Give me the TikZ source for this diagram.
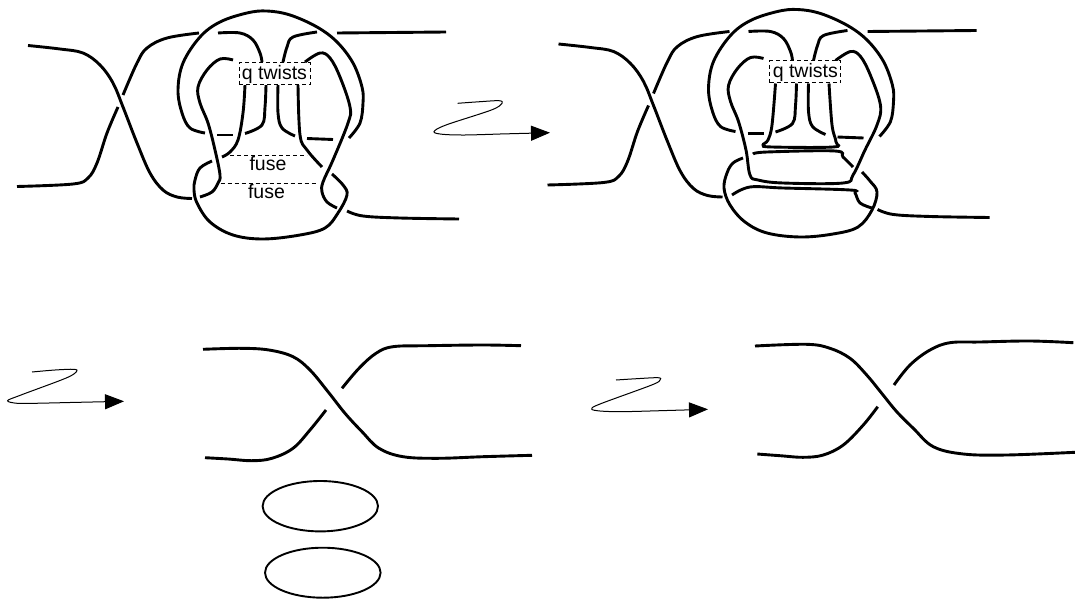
\documentclass[tikz,border=0pt]{standalone}
\usepackage{fontspec}
\setmainfont{Liberation Sans}
\usetikzlibrary{arrows.meta}
\tikzset{
  strand/.style={line width=2.9pt},
  loopring/.style={line width=1.9pt},
  fuseline/.style={line width=1pt,dash pattern=on 4pt off 3pt},
  twistbox/.style={draw,fill=white,line width=1pt,dash pattern=on 4pt off 3pt,minimum width=71pt,minimum height=22pt,inner sep=0pt,font=\fontsize{19.5}{20}\selectfont},
  fuselabel/.style={inner sep=0pt,font=\fontsize{19.5}{20}\selectfont},
  squiggle/.style={line width=1pt,-{Triangle[length=19pt,width=15pt]}}
}
\newcommand{\strandcurve}[1]{\draw[strand] plot[smooth,tension=.6] coordinates {#1};}
\newcommand{\squigglecurve}[2]{\draw[squiggle] plot[smooth,tension=.55] coordinates {#1} -- #2;}
\newcommand{\knotupper}{
  \strandcurve{(28,45.5)(60,49)(83,53)(100,65)(113,83)(123,107)(137,143)(150,173)(163,190)(177,197)(192,198.5)}
  \strandcurve{(199,33)(167,38)(147,48)(137,63)(123,95)}
  \strandcurve{(118,107)(107,133)(97,163)(88,178)(73,184)(17,186.5)}
  \strandcurve{(205,133)(190,128)(182,113)(178,90)(183,63)(200,37)(220,22)(247,13)(267,11)(290,15)(317,27)(337,42)(353,63)(362,87)(363,103)(360,123)(349,138)}
  \strandcurve{(218,33)(240,33)(253,40)(260,53)(262,62)}
  \strandcurve{(283,62)(287,47)(293,37)(317,32)}
  \strandcurve{(337,33)(446,32)}
  \strandcurve{(266,85)(265,107)(262,125)(245,133.5)}
  \strandcurve{(217,135)(233,135)}
  \strandcurve{(278,85)(278,113)(282,128)(295,136)}
  \strandcurve{(307,138.5)(333,139.5)}
  \strandcurve{(347,211)(363,216)(400,218)(459,219)}
}
\begin{document}
\begin{tikzpicture}[x=1pt,y=-1pt]
  \useasboundingbox (0,0) rectangle (1075,599);

  \knotupper
  \strandcurve{(245,85)(243,113)(238,140)(230,152)(222,157)}
  \strandcurve{(298,85)(300,135)(307,150)(322,167)}
  \strandcurve{(212,161)(200,168)(195,180)(194,190)(197,203)(210,222)(233,235)(263,239)(300,235)(325,228)(338,213)(347,195)(343,185)(332,174)}
  \strandcurve{(233,60)(220,59)(207,70)(198,87)(200,103)(208,123)(215,150)(220,175)(218,183)(212,192)(200,197)}
  \strandcurve{(305,62)(320,53)(330,58)(340,77)(350,107)(348,123)(333,160)(323,182)(322,192)(327,202)(337,208)}
  \node[twistbox] (twistsleft) at (274.5,74) {q twists};
  \coordinate (fuseaw) at (223,155.5);
  \coordinate (fuseae) at (307,155.5);
  \coordinate (fusebw) at (220.7,183.5);
  \coordinate (fusebe) at (318,183.5);
  \draw[fuseline] (fuseaw) -- (fuseae);
  \draw[fuseline] (fusebw) -- (fusebe);
  \node[fuselabel] (fusea) at (268,164) {fuse};
  \node[fuselabel] (fuseb) at (266.5,192) {fuse};

  \begin{scope}[shift={(530.5,-1.5)}]
    \knotupper
  \end{scope}
  \strandcurve{(775.5,83.5)(772,125)(768,140)(763,145)(772,147)(833,147)(836,142)(832,125)(829,83.5)}
  \strandcurve{(763.5,58.5)(750.5,57.5)(737.5,68.5)(728.5,85.5)(730.5,101.5)(738.5,121.5)(746,150)(750,175)(758,180)(783,183)(843,183)(853,175)(865,150)(877,125)(880.5,105.5)(870.5,75.5)(860.5,56.5)(850.5,51.5)(835.5,60.5)}
  \strandcurve{(753,154)(767,152)(835,151)(843,157)(853,167)}
  \strandcurve{(862,172)(870,181)(877,192)(872,210)(858,227)(833,234)(800,237)(767,233)(745,222)(730,205)(724,188)(727,173)(733,163)(743,158)}
  \strandcurve{(732,195)(750,187)(783,188)(850,190)(855,193)(860,203)(872,208)}
  \node[twistbox] (twistsright) at (805.3,72) {q twists};

  \squigglecurve{(457.6,103.3)(480,101.7)(499,100.7)(502,103.3)(491.4,110)(446,125)(434,131.7)(442.6,134.3)(465,135)(500,134)}{(550,132.7)}

  \squigglecurve{(32,372)(55,370)(74,369.3)(76.5,371.7)(65.5,378.3)(21,395)(7.6,400.7)(17,403.3)(34.5,403.3)(70,402.5)}{(124,401.3)}
  \strandcurve{(203,349.3)(241,348.3)(269,350)(293,356.7)(310,370)(328,391.7)(345,413.3)(362,431.7)(379,448.3)(403,456.7)(438,458.3)(483,456.7)(532,455.3)}
  \strandcurve{(342,388.3)(359,368.3)(376,353.3)(393,346.7)(428,345.7)(483,345)(521,345.7)}
  \strandcurve{(326,410)(310,430)(293,448.3)(272,458.3)(252,460.7)(228,459)(205,457.7)}
  \draw[loopring] (320.3,506.2) ellipse [x radius=57.7,y radius=25.2];
  \draw[loopring] (322.8,572.7) ellipse [x radius=57.8,y radius=25];

  \squigglecurve{(616,380)(636.7,378.7)(658,377.7)(660,380)(651.7,385)(600,404)(591.7,409)(600,411)(620,411.7)(650,411)}{(708,409.3)}
  \strandcurve{(755,346)(806.7,344.3)(830,348.3)(850,358.3)(866.7,375)(881.7,393.3)(896.7,411.7)(913.3,428.3)(933.3,446.7)(963.3,454)(1006.7,455)(1075,452.3)}
  \strandcurve{(894,385)(910,365)(930,350)(950,342.7)(980,342)(1030,341)(1073.3,342.7)}
  \strandcurve{(877.7,406.7)(863.3,425)(843.3,445)(823.3,455)(803.3,457.3)(780,455.7)(757.3,454)}
\end{tikzpicture}
\end{document}
